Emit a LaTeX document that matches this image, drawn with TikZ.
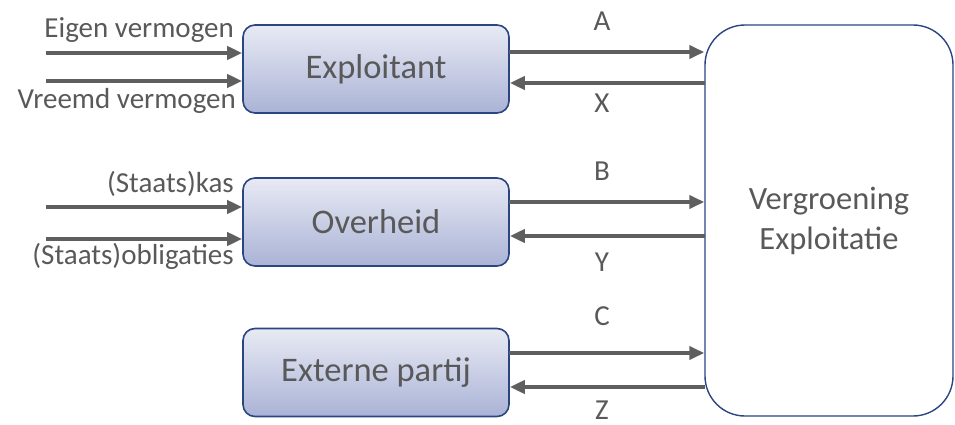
\documentclass[tikz,border=0pt]{standalone}
\usepackage{fontspec}
\setmainfont{Carlito}
\usetikzlibrary{arrows.meta,calc}
\definecolor{txt}{HTML}{595959}
\definecolor{arr}{HTML}{5F5F5F}
\definecolor{bord}{HTML}{2A4582}
\definecolor{topc}{HTML}{E8EAF4}
\definecolor{botc}{HTML}{AAB3D6}
\tikzset{
  actor/.style={draw=bord, line width=1.6pt, rounded corners=12pt, top color=topc, bottom color=botc,
    minimum width=266pt, minimum height=88pt, inner sep=0pt, text=txt, font=\fontsize{34.5}{40}\selectfont},
  bigbox/.style={draw=bord, line width=1.4pt, rounded corners=40pt, fill=white,
    minimum width=248pt, minimum height=391pt, inner sep=0pt, text=txt, align=center,
    font=\fontsize{32.5}{40}\selectfont},
  flow/.style={draw=arr, line width=4pt, -{Triangle[length=15pt,width=13pt]}},
  lbl/.style={text=txt, inner sep=0pt, font=\fontsize{29}{32}\selectfont},
}
\begin{document}
\begin{tikzpicture}[x=1pt,y=-1pt]
\useasboundingbox (0,0) rectangle (955,425);
\node[actor] (exp) at (376,69) {Exploitant};
\node[actor] (ovh) at (376,222) {Overheid};
\node[actor] (ext) at (376,372.5) {Externe partij};
\node[bigbox] (big) at (829,220.5) {Vergroening\\Exploitatie};
% inputs
\coordinate (i1) at (46,53);
\coordinate (i2) at (46,81);
\coordinate (i3) at (46,207);
\coordinate (i4) at (46,239);
\draw[flow] (i1) -- (i1 -| exp.west);
\draw[flow] (i2) -- (i2 -| exp.west);
\draw[flow] (i3) -- (i3 -| ovh.west);
\draw[flow] (i4) -- (i4 -| ovh.west);
\node[lbl, anchor=base east] (l1) at (234,38) {Eigen vermogen};
\node[lbl, anchor=base east] (l2) at (236,109) {Vreemd vermogen};
\node[lbl, anchor=base east] (l3) at (234,192) {(Staats)kas};
\node[lbl, anchor=base east] (l4) at (234,264) {(Staats)obligaties};
% flows to and from big box
\coordinate (a) at (509,52);
\coordinate (x) at (705,83);
\coordinate (b) at (509,202);
\coordinate (y) at (705,236);
\coordinate (c) at (509,353);
\coordinate (z) at (705,387);
\draw[flow] (a) -- (a -| big.west);
\draw[flow] (x) -- (x -| exp.east);
\draw[flow] (b) -- (b -| big.west);
\draw[flow] (y) -- (y -| ovh.east);
\draw[flow] (c) -- (c -| big.west);
\draw[flow] (z) -- (z -| ext.east);
\node[lbl] (la) at (602,21) {A};
\node[lbl] (lx) at (602,103) {X};
\node[lbl] (lb) at (602,171) {B};
\node[lbl] (ly) at (602,262) {Y};
\node[lbl] (lc) at (602,316) {C};
\node[lbl] (lz) at (602,410) {Z};
\end{tikzpicture}
\end{document}
